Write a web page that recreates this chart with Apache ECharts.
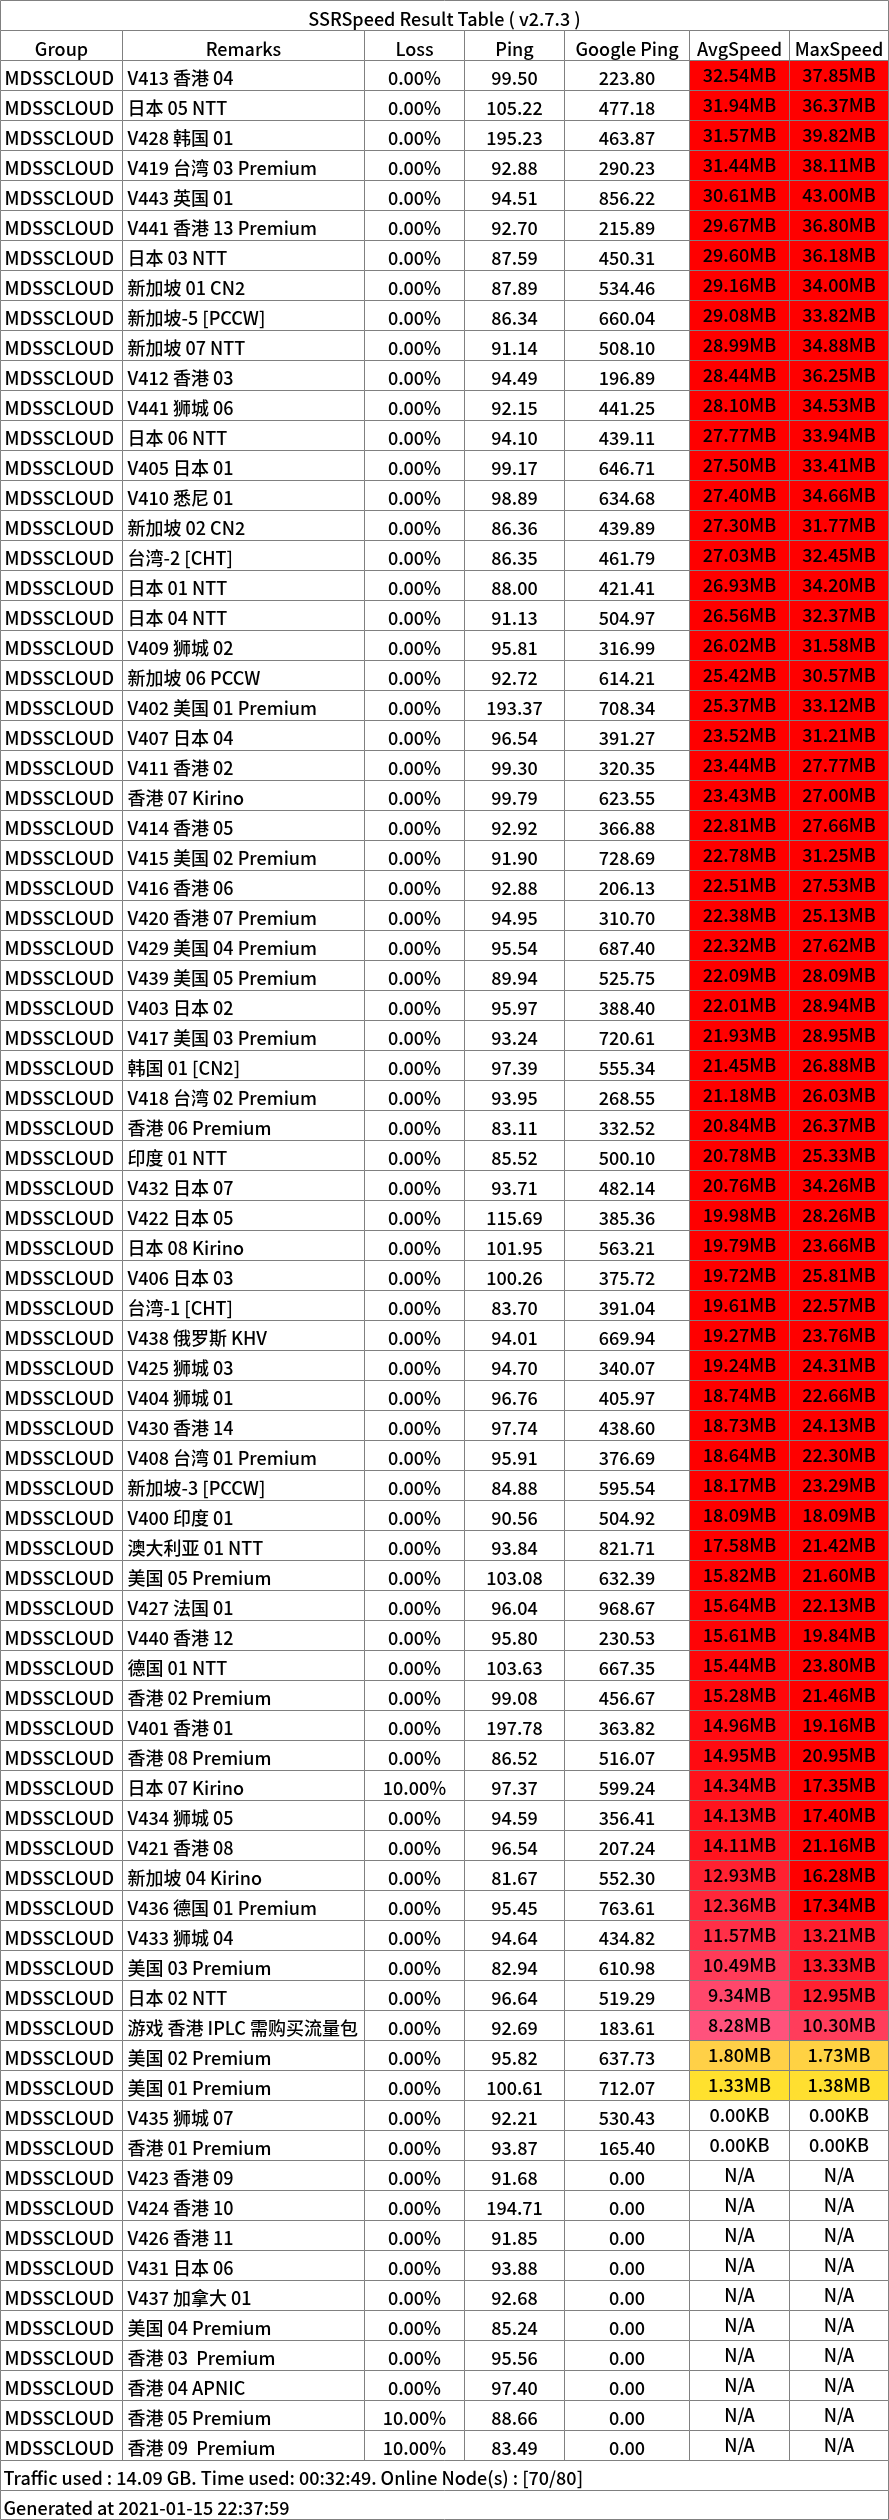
<!DOCTYPE html>
<html>
<head>
<meta charset="utf-8">
<title>SSRSpeed Result Table</title>
<script src="https://cdn.jsdelivr.net/npm/echarts/dist/echarts.min.js"></script>
<style>
  html, body { margin: 0; padding: 0; background: #fff; }
  #resultTable { width: 889px; height: 2520px; }
</style>
</head>
<body>
<div id="resultTable"></div>
<script>
const title = 'SSRSpeed Result Table ( v2.7.3 )';
const headers = ['Group', 'Remarks', 'Loss', 'Ping', 'Google Ping', 'AvgSpeed', 'MaxSpeed'];
const footerTraffic = 'Traffic used : 14.09 GB. Time used: 00:32:49. Online Node(s) : [70/80]';
const footerGenerated = 'Generated at 2021-01-15 22:37:59';
const group = 'MDSSCLOUD';

const remarks = [
  'V413 香港 04', '日本 05 NTT', 'V428 韩国 01', 'V419 台湾 03 Premium', 'V443 英国 01', 'V441 香港 13 Premium',
  '日本 03 NTT', '新加坡 01 CN2', '新加坡-5 [PCCW]', '新加坡 07 NTT', 'V412 香港 03', 'V441 狮城 06',
  '日本 06 NTT', 'V405 日本 01', 'V410 悉尼 01', '新加坡 02 CN2', '台湾-2 [CHT]', '日本 01 NTT',
  '日本 04 NTT', 'V409 狮城 02', '新加坡 06 PCCW', 'V402 美国 01 Premium', 'V407 日本 04', 'V411 香港 02',
  '香港 07 Kirino', 'V414 香港 05', 'V415 美国 02 Premium', 'V416 香港 06', 'V420 香港 07 Premium', 'V429 美国 04 Premium',
  'V439 美国 05 Premium', 'V403 日本 02', 'V417 美国 03 Premium', '韩国 01 [CN2]', 'V418 台湾 02 Premium', '香港 06 Premium',
  '印度 01 NTT', 'V432 日本 07', 'V422 日本 05', '日本 08 Kirino', 'V406 日本 03', '台湾-1 [CHT]',
  'V438 俄罗斯 KHV', 'V425 狮城 03', 'V404 狮城 01', 'V430 香港 14', 'V408 台湾 01 Premium', '新加坡-3 [PCCW]',
  'V400 印度 01', '澳大利亚 01 NTT', '美国 05 Premium', 'V427 法国 01', 'V440 香港 12', '德国 01 NTT',
  '香港 02 Premium', 'V401 香港 01', '香港 08 Premium', '日本 07 Kirino', 'V434 狮城 05', 'V421 香港 08',
  '新加坡 04 Kirino', 'V436 德国 01 Premium', 'V433 狮城 04', '美国 03 Premium', '日本 02 NTT', '游戏 香港 IPLC 需购买流量包',
  '美国 02 Premium', '美国 01 Premium', 'V435 狮城 07', '香港 01 Premium', 'V423 香港 09', 'V424 香港 10',
  'V426 香港 11', 'V431 日本 06', 'V437 加拿大 01', '美国 04 Premium', '香港 03  Premium', '香港 04 APNIC',
  '香港 05 Premium', '香港 09  Premium'
];

const loss = [
  0, 0, 0, 0, 0, 0, 0, 0, 0, 0, 0, 0,
  0, 0, 0, 0, 0, 0, 0, 0, 0, 0, 0, 0,
  0, 0, 0, 0, 0, 0, 0, 0, 0, 0, 0, 0,
  0, 0, 0, 0, 0, 0, 0, 0, 0, 0, 0, 0,
  0, 0, 0, 0, 0, 0, 0, 0, 0, 10, 0, 0,
  0, 0, 0, 0, 0, 0, 0, 0, 0, 0, 0, 0,
  0, 0, 0, 0, 0, 0, 10, 10
];

const ping = [
  99.50, 105.22, 195.23, 92.88, 94.51, 92.70, 87.59, 87.89, 86.34, 91.14, 94.49, 92.15,
  94.10, 99.17, 98.89, 86.36, 86.35, 88.00, 91.13, 95.81, 92.72, 193.37, 96.54, 99.30,
  99.79, 92.92, 91.90, 92.88, 94.95, 95.54, 89.94, 95.97, 93.24, 97.39, 93.95, 83.11,
  85.52, 93.71, 115.69, 101.95, 100.26, 83.70, 94.01, 94.70, 96.76, 97.74, 95.91, 84.88,
  90.56, 93.84, 103.08, 96.04, 95.80, 103.63, 99.08, 197.78, 86.52, 97.37, 94.59, 96.54,
  81.67, 95.45, 94.64, 82.94, 96.64, 92.69, 95.82, 100.61, 92.21, 93.87, 91.68, 194.71,
  91.85, 93.88, 92.68, 85.24, 95.56, 97.40, 88.66, 83.49
];

const googlePing = [
  223.80, 477.18, 463.87, 290.23, 856.22, 215.89, 450.31, 534.46, 660.04, 508.10, 196.89, 441.25,
  439.11, 646.71, 634.68, 439.89, 461.79, 421.41, 504.97, 316.99, 614.21, 708.34, 391.27, 320.35,
  623.55, 366.88, 728.69, 206.13, 310.70, 687.40, 525.75, 388.40, 720.61, 555.34, 268.55, 332.52,
  500.10, 482.14, 385.36, 563.21, 375.72, 391.04, 669.94, 340.07, 405.97, 438.60, 376.69, 595.54,
  504.92, 821.71, 632.39, 968.67, 230.53, 667.35, 456.67, 363.82, 516.07, 599.24, 356.41, 207.24,
  552.30, 763.61, 434.82, 610.98, 519.29, 183.61, 637.73, 712.07, 530.43, 165.40, 0, 0,
  0, 0, 0, 0, 0, 0, 0, 0
];

const avgSpeed = [
  '32.54MB', '31.94MB', '31.57MB', '31.44MB', '30.61MB', '29.67MB', '29.60MB', '29.16MB', '29.08MB', '28.99MB', '28.44MB', '28.10MB',
  '27.77MB', '27.50MB', '27.40MB', '27.30MB', '27.03MB', '26.93MB', '26.56MB', '26.02MB', '25.42MB', '25.37MB', '23.52MB', '23.44MB',
  '23.43MB', '22.81MB', '22.78MB', '22.51MB', '22.38MB', '22.32MB', '22.09MB', '22.01MB', '21.93MB', '21.45MB', '21.18MB', '20.84MB',
  '20.78MB', '20.76MB', '19.98MB', '19.79MB', '19.72MB', '19.61MB', '19.27MB', '19.24MB', '18.74MB', '18.73MB', '18.64MB', '18.17MB',
  '18.09MB', '17.58MB', '15.82MB', '15.64MB', '15.61MB', '15.44MB', '15.28MB', '14.96MB', '14.95MB', '14.34MB', '14.13MB', '14.11MB',
  '12.93MB', '12.36MB', '11.57MB', '10.49MB', '9.34MB', '8.28MB', '1.80MB', '1.33MB', '0.00KB', '0.00KB', 'N/A', 'N/A',
  'N/A', 'N/A', 'N/A', 'N/A', 'N/A', 'N/A', 'N/A', 'N/A'
];

const maxSpeed = [
  '37.85MB', '36.37MB', '39.82MB', '38.11MB', '43.00MB', '36.80MB', '36.18MB', '34.00MB', '33.82MB', '34.88MB', '36.25MB', '34.53MB',
  '33.94MB', '33.41MB', '34.66MB', '31.77MB', '32.45MB', '34.20MB', '32.37MB', '31.58MB', '30.57MB', '33.12MB', '31.21MB', '27.77MB',
  '27.00MB', '27.66MB', '31.25MB', '27.53MB', '25.13MB', '27.62MB', '28.09MB', '28.94MB', '28.95MB', '26.88MB', '26.03MB', '26.37MB',
  '25.33MB', '34.26MB', '28.26MB', '23.66MB', '25.81MB', '22.57MB', '23.76MB', '24.31MB', '22.66MB', '24.13MB', '22.30MB', '23.29MB',
  '18.09MB', '21.42MB', '21.60MB', '22.13MB', '19.84MB', '23.80MB', '21.46MB', '19.16MB', '20.95MB', '17.35MB', '17.40MB', '21.16MB',
  '16.28MB', '17.34MB', '13.21MB', '13.33MB', '12.95MB', '10.30MB', '1.73MB', '1.38MB', '0.00KB', '0.00KB', 'N/A', 'N/A',
  'N/A', 'N/A', 'N/A', 'N/A', 'N/A', 'N/A', 'N/A', 'N/A'
];

// layout
const colEdges = [0, 122, 364, 464, 564, 689, 789, 889];
const ROWS = 2 + remarks.length + 2;
const LINE = '#808080';
const FONT = '"Noto Sans CJK SC", "Noto Sans", sans-serif';

// speed -> color, same stops as SSRSpeed "origin" scheme (KB units)
const colorStops = [
  { speed: 0, color: [255, 255, 255] },
  { speed: 64, color: [128, 255, 0] },
  { speed: 512, color: [255, 255, 0] },
  { speed: 4096, color: [255, 128, 192] },
  { speed: 16384, color: [255, 0, 0] },
];

function speedColor(str) {
  if (str === 'N/A') return '#ffffff';
  let v = parseFloat(str);
  if (str.endsWith('MB')) v = v * 1024;
  if (v <= 0) return '#ffffff';
  const last = colorStops[colorStops.length - 1];
  if (v >= last.speed) return 'rgb(' + last.color.join(',') + ')';
  for (let i = 1; i < colorStops.length; i++) {
    const a = colorStops[i - 1], b = colorStops[i];
    if (v <= b.speed) {
      const t = (v - a.speed) / (b.speed - a.speed);
      const c = a.color.map((ch, k) => Math.round(ch + (b.color[k] - ch) * t));
      return 'rgb(' + c.join(',') + ')';
    }
  }
}

// cells: [colStart, colEnd, row] + text / style
const cells = [];
function addCell(c0, c1, row, text, opts) {
  cells.push(Object.assign({ value: [c0, c1, row], text: text, align: 'center', pad: 0, fill: '#ffffff', dy: 3 }, opts || {}));
}

addCell(0, 7, 0, title, { dy: 4 });
headers.forEach((h, i) => addCell(i, i + 1, 1, h, { dy: 3.5 }));
remarks.forEach((r, i) => {
  const row = i + 2;
  addCell(0, 1, row, group, { align: 'left', pad: 4 });
  addCell(1, 2, row, r, { align: 'left', pad: 5 });
  addCell(2, 3, row, loss[i].toFixed(2) + '%');
  addCell(3, 4, row, ping[i].toFixed(2));
  addCell(4, 5, row, googlePing[i].toFixed(2));
  addCell(5, 6, row, avgSpeed[i], { fill: speedColor(avgSpeed[i]), dy: 0 });
  addCell(6, 7, row, maxSpeed[i], { fill: speedColor(maxSpeed[i]), dy: 0 });
});
addCell(0, 7, ROWS - 2, footerTraffic, { align: 'left', pad: 3 });
addCell(0, 7, ROWS - 1, footerGenerated, { align: 'left', pad: 3 });

function snap(v, max) {
  return Math.min(Math.round(v), max - 1) + 0.5;
}

const myChart = echarts.init(document.getElementById('resultTable'));
myChart.setOption({
  animation: false,
  grid: { left: 0, right: 0, top: 0, bottom: 0 },
  xAxis: { type: 'value', min: 0, max: colEdges[colEdges.length - 1], show: false },
  yAxis: { type: 'value', min: 0, max: ROWS, inverse: true, show: false },
  series: [
    {
      type: 'custom',
      silent: true,
      clip: false,
      data: cells,
      renderItem: (params, api) => {
        const cell = cells[params.dataIndex];
        const c0 = api.value(0), c1 = api.value(1), row = api.value(2);
        const p0 = api.coord([colEdges[c0], row]);
        const p1 = api.coord([colEdges[c1], row + 1]);
        const W = api.getWidth(), H = api.getHeight();
        const x0 = snap(p0[0], W), x1 = snap(p1[0], W);
        const y0 = snap(p0[1], H), y1 = snap(p1[1], H);
        const tx = cell.align === 'left' ? x0 + cell.pad : (x0 + x1) / 2;
        return {
          type: 'group',
          children: [
            {
              type: 'rect',
              shape: { x: x0, y: y0, width: x1 - x0, height: y1 - y0 },
              style: { fill: cell.fill, stroke: LINE, lineWidth: 1 },
            },
            {
              type: 'text',
              style: {
                text: cell.text,
                x: tx,
                y: (y0 + y1) / 2 + cell.dy,
                align: cell.align,
                verticalAlign: 'middle',
                fontSize: 18,
                fontFamily: FONT,
                fontWeight: 500,
                fill: '#000000',
              },
            },
          ],
        };
      },
    },
  ],
});
</script>
</body>
</html>
